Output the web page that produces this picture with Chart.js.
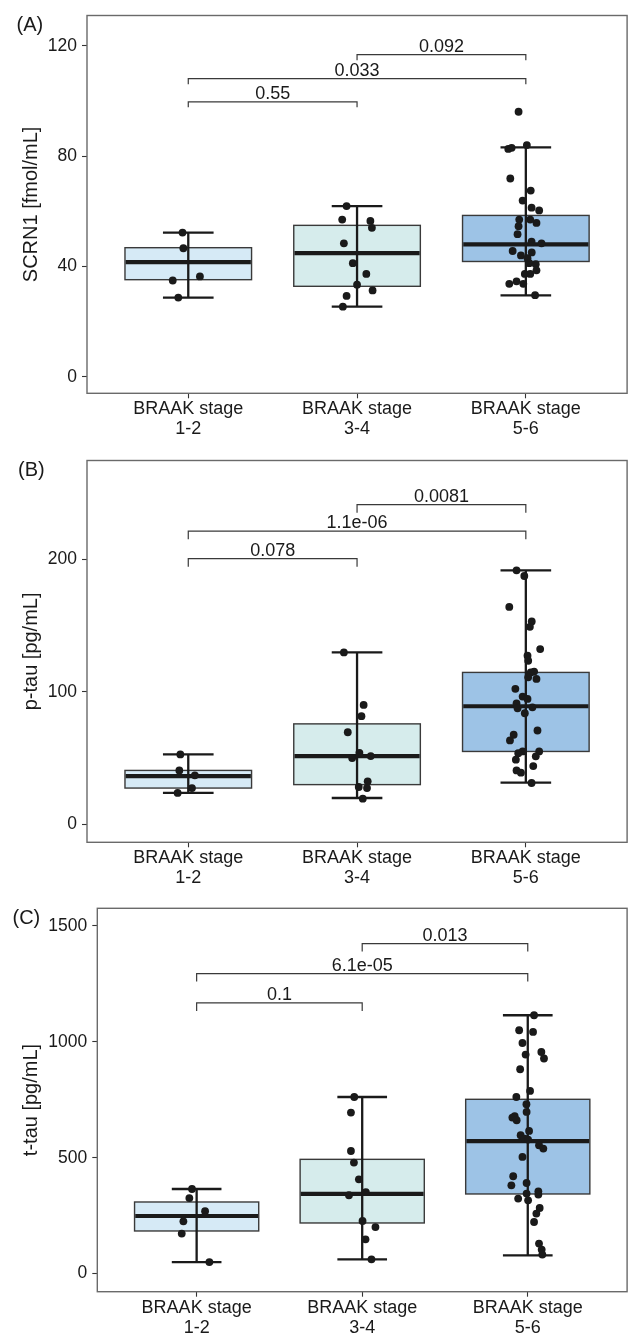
<!DOCTYPE html>
<html><head><meta charset="utf-8">
<script src="https://cdn.jsdelivr.net/npm/chart.js@4.4.1/dist/chart.umd.min.js"></script>
<style>
html,body{margin:0;padding:0;background:#fff;}
body{width:631px;height:1333px;position:relative;overflow:hidden;}
.panel{position:absolute;left:0;width:631px;}
canvas{display:block;}
</style></head><body>
<div class="panel" style="top:0;height:445px"><canvas id="cA" width="631" height="445"></canvas></div>
<div class="panel" style="top:445px;height:445px"><canvas id="cB" width="631" height="445"></canvas></div>
<div class="panel" style="top:890px;height:443px"><canvas id="cC" width="631" height="443"></canvas></div>
<script>
// ---------- data ----------
const categories = [['BRAAK stage','1-2'],['BRAAK stage','3-4'],['BRAAK stage','5-6']];

// Panel A: SCRN1 [fmol/mL]
const ticksA = [0, 40, 80, 120];
const boxA = [ // [lower whisker, Q1, median, Q3, upper whisker]
  [28.7, 35.2, 41.6, 46.8, 52.3],
  [25.4, 32.8, 44.8, 54.9, 61.9],
  [29.5, 41.8, 48.0, 58.5, 83.2]
];
const ptsA1 = [52.3, 46.6, 34.9, 36.4, 28.7];
const jitA1 = [-0.034, -0.029, -0.092, 0.069, -0.059];
const ptsA2 = [61.9, 57.0, 56.5, 54.0, 48.4, 41.2, 37.3, 33.4, 31.3, 29.3, 25.4];
const jitA2 = [-0.062, -0.088, 0.079, 0.088, -0.078, -0.025, 0.055, 0, 0.092, -0.062, -0.084];
const ptsA3 = [96.1, 82.6, 83.0, 84.0, 71.9, 67.5, 63.9, 61.3, 60.3, 55.8, 57.0, 57.0, 54.6, 51.7, 49.0, 48.4, 45.6, 44.0, 45.1, 43.0, 41.2, 40.8, 38.6, 37.3, 37.3, 33.7, 34.6, 33.7, 29.6];
const jitA3 = [-0.043, -0.104, -0.084, 0.006, -0.092, 0.029, -0.019, 0.034, 0.079, 0.063, -0.039, 0.026, -0.043, -0.049, 0.034, 0.093, -0.078, -0.029, 0.035, 0.010, 0.020, 0.059, 0.063, -0.006, 0.026, -0.098, -0.055, -0.015, 0.055];
const bracketsA = [ // [from group, to group, y, label]
  [1, 2, 99.7, '0.55'],
  [1, 3, 108.1, '0.033'],
  [2, 3, 116.8, '0.092']
];
const tipA = 2.0;

// Panel B: p-tau [pg/mL]
const ticksB = [0, 100, 200];
const boxB = [
  [23.8, 27.5, 36.5, 40.8, 52.9],
  [20.0, 30.1, 51.6, 75.9, 129.8],
  [31.6, 55.1, 89.2, 114.7, 191.7]
];
const ptsB1 = [52.9, 40.8, 37.1, 27.5, 23.8];
const jitB1 = [-0.047, -0.053, 0.039, 0.022, -0.063];
const ptsB2 = [129.8, 90.2, 81.7, 69.6, 54.1, 50.1, 51.6, 32.6, 28.3, 27.5, 19.5];
const jitB2 = [-0.078, 0.039, 0.026, -0.055, 0.014, -0.029, 0.081, 0.063, 0.010, 0.059, 0.034];
const ptsB3 = [191.7, 187.4, 164.1, 153.1, 149.1, 132.3, 127.3, 123.5, 115.3, 114.7, 111.0, 109.8, 102.3, 96.5, 94.7, 91.4, 88.4, 87.7, 83.9, 70.9, 67.7, 63.4, 55.1, 53.8, 55.1, 51.4, 48.9, 44.1, 40.8, 39.1, 31.3];
const jitB3 = [-0.055, -0.009, -0.098, 0.035, 0.024, 0.085, 0.010, 0.014, 0.049, 0.029, 0.014, 0.063, -0.062, -0.019, 0.010, -0.055, 0.039, -0.049, -0.006, 0.069, -0.072, -0.094, -0.019, -0.045, 0.079, 0.059, -0.059, 0.044, -0.055, -0.029, 0.034];
const bracketsB = [
  [1, 2, 200.5, '0.078'],
  [1, 3, 221.3, '1.1e-06'],
  [2, 3, 241.3, '0.0081']
];
const tipB = 6.2;

// Panel C: t-tau [pg/mL]
const ticksC = [0, 500, 1000, 1500];
const boxC = [
  [50, 184, 248.6, 309, 365],
  [61.7, 218.5, 343.6, 493, 762],
  [79, 343.6, 572, 752, 1114.6]
];
const ptsC1 = [365, 326, 269, 225.7, 172.6, 50];
const jitC1 = [-0.028, -0.044, 0.051, -0.080, -0.090, 0.077];
const ptsC2 = [762, 694.6, 529, 479, 407, 338, 352, 227, 201, 148, 61.7];
const jitC2 = [-0.048, -0.068, -0.068, -0.050, -0.020, -0.080, 0.022, 0.002, 0.080, 0.020, 0.056];
const ptsC3 = [1114.6, 1050, 1042.7, 995, 956, 945, 928, 881.6, 788, 762, 730.6, 697.4, 673, 678.8, 661.6, 615.4, 597, 582.6, 578.2, 553.7, 539.4, 503.3, 420, 381, 391, 345.2, 355, 341, 323.7, 316.3, 283, 258.9, 222.7, 129.5, 103.6, 82];
const jitC3 = [0.038, -0.052, 0.032, -0.032, 0.082, -0.013, 0.098, -0.046, 0.014, -0.069, -0.008, -0.007, -0.093, -0.079, -0.067, 0.008, -0.043, -0.019, 0.002, 0.068, 0.094, -0.032, -0.088, -0.099, -0.007, -0.007, 0.064, 0.064, -0.058, 0.002, 0.072, 0.052, 0.038, 0.068, 0.084, 0.088];
const bracketsC = [
  [1, 2, 1167.7, '0.1'],
  [1, 3, 1294.5, '6.1e-05'],
  [2, 3, 1424, '0.013']
];
const tipC = 34.5;

// ---------- styling ----------
const FONT = "'Liberation Sans', Arial, Helvetica, sans-serif";
const fills = ['#D6EAF6', '#D6ECEC', '#9DC3E6'];
const BOX_WIDTH = 0.75, CAP_WIDTH = 0.3;

const boxPlugin = {
  id: 'boxes',
  beforeDatasetsDraw(chart) {
    const p = chart.options.plugins.boxes;
    const ctx = chart.ctx, xs = chart.scales.x, ys = chart.scales.y;
    ctx.save();
    p.stats.forEach((s, i) => {
      const c = i + 1;
      const cx = xs.getPixelForValue(c);
      const bl = xs.getPixelForValue(c - BOX_WIDTH / 2), br = xs.getPixelForValue(c + BOX_WIDTH / 2);
      const cl = xs.getPixelForValue(c - CAP_WIDTH / 2), cr = xs.getPixelForValue(c + CAP_WIDTH / 2);
      const yLo = ys.getPixelForValue(s[0]), yQ1 = ys.getPixelForValue(s[1]);
      const yMed = ys.getPixelForValue(s[2]), yQ3 = ys.getPixelForValue(s[3]);
      const yHi = ys.getPixelForValue(s[4]);
      ctx.fillStyle = fills[i];
      ctx.fillRect(bl, yQ3, br - bl, yQ1 - yQ3);
      ctx.strokeStyle = '#3a3a3a'; ctx.lineWidth = 1.4;
      ctx.strokeRect(bl, yQ3, br - bl, yQ1 - yQ3);
      ctx.strokeStyle = '#1a1a1a'; ctx.lineWidth = 4.2; ctx.lineCap = 'butt';
      ctx.beginPath(); ctx.moveTo(bl + 0.7, yMed); ctx.lineTo(br - 0.7, yMed); ctx.stroke();
      ctx.lineWidth = 2.3;
      ctx.beginPath();
      ctx.moveTo(cx, yHi); ctx.lineTo(cx, yLo);
      ctx.moveTo(cl, yHi); ctx.lineTo(cr, yHi);
      ctx.moveTo(cl, yLo); ctx.lineTo(cr, yLo);
      ctx.stroke();
    });
    ctx.restore();
  },
  afterDraw(chart) {
    const p = chart.options.plugins.boxes;
    const ctx = chart.ctx, xs = chart.scales.x, ys = chart.scales.y, a = chart.chartArea;
    ctx.save();
    // panel border
    ctx.strokeStyle = '#6a6a6a'; ctx.lineWidth = 1.4;
    ctx.strokeRect(a.left, a.top, a.right - a.left, a.bottom - a.top);
    // brackets
    ctx.strokeStyle = '#3a3a3a'; ctx.lineWidth = 1.2;
    ctx.fillStyle = '#1a1a1a';
    ctx.font = '18px ' + FONT;
    ctx.textAlign = 'center'; ctx.textBaseline = 'alphabetic';
    p.brackets.forEach(b => {
      const x1 = xs.getPixelForValue(b[0]), x2 = xs.getPixelForValue(b[1]);
      const y = ys.getPixelForValue(b[2]), yt = ys.getPixelForValue(b[2] - p.tip);
      ctx.beginPath();
      ctx.moveTo(x1, yt); ctx.lineTo(x1, y); ctx.lineTo(x2, y); ctx.lineTo(x2, yt);
      ctx.stroke();
      ctx.fillText(b[3], (x1 + x2) / 2, y - 3);
    });
    // panel tag
    ctx.textAlign = 'left';
    ctx.font = '20px ' + FONT;
    ctx.fillText(p.tag, p.tagX, a.top + 15.5);
    ctx.restore();
  }
};

function pointsOf(vals, jit, g) {
  return vals.map((v, i) => ({x: g + jit[i], y: v}));
}

function makePanel(id, cfg) {
  const ds = cfg.points.map((d, i) => ({
    data: pointsOf(d[0], d[1], i + 1),
    pointRadius: 3.9, pointHoverRadius: 3.9,
    backgroundColor: '#1a1a1a', borderWidth: 0, showLine: false
  }));
  return new Chart(document.getElementById(id), {
    type: 'scatter',
    data: {datasets: ds},
    plugins: [boxPlugin],
    options: {
      responsive: false, animation: false, devicePixelRatio: 1,
      events: [],
      layout: {padding: {top: cfg.padTop, right: 1.3, left: 0, bottom: 0}},
      plugins: {
        legend: {display: false}, tooltip: {enabled: false},
        boxes: {stats: cfg.stats, brackets: cfg.brackets, tip: cfg.tip, tag: cfg.tag, tagX: cfg.tagX}
      },
      scales: {
        x: {
          type: 'linear', min: 0.4, max: 3.6,
          afterBuildTicks: s => { s.ticks = [1, 2, 3].map(v => ({value: v})); },
          afterFit: s => { s.height = cfg.xH; },
          grid: {display: true, drawOnChartArea: false, drawTicks: true, tickLength: 5, tickColor: '#333', tickWidth: 1.1},
          border: {display: false},
          ticks: {
            autoSkip: false, maxRotation: 0, minRotation: 0, padding: 1.2,
            color: '#1a1a1a', font: {family: FONT, size: 18, lineHeight: 20 / 18},
            callback: v => categories[Math.round(v) - 1]
          }
        },
        y: {
          type: 'linear', min: cfg.yMin, max: cfg.yMax,
          afterBuildTicks: s => { s.ticks = cfg.ticks.map(v => ({value: v})); },
          afterFit: s => { s.width = cfg.yW; },
          grid: {display: true, drawOnChartArea: false, drawTicks: true, tickLength: 5, tickColor: '#333', tickWidth: 1.1},
          border: {display: false},
          ticks: {padding: 5, color: '#1a1a1a', font: {family: FONT, size: 17.5}, callback: v => String(v)},
          title: {display: true, text: cfg.yTitle, color: '#1a1a1a', font: {family: FONT, size: 20}, padding: {top: 19.5, bottom: 0}}
        }
      }
    }
  });
}

makePanel('cA', {
  points: [[ptsA1, jitA1], [ptsA2, jitA2], [ptsA3, jitA3]],
  stats: boxA, brackets: bracketsA, tip: tipA, tag: '(A)', tagX: 16.5,
  ticks: ticksA, yMin: -6.0, yMax: 131.0, yTitle: 'SCRN1 [fmol/mL]',
  padTop: 11, xH: 51.7, yW: 87
});
makePanel('cB', {
  points: [[ptsB1, jitB1], [ptsB2, jitB2], [ptsB3, jitB3]],
  stats: boxB, brackets: bracketsB, tip: tipB, tag: '(B)', tagX: 18,
  ticks: ticksB, yMin: -13.4, yMax: 274.5, yTitle: 'p-tau [pg/mL]',
  padTop: 14.3, xH: 47.7, yW: 87
});
makePanel('cC', {
  points: [[ptsC1, jitC1], [ptsC2, jitC2], [ptsC3, jitC3]],
  stats: boxC, brackets: bracketsC, tip: tipC, tag: '(C)', tagX: 12.5,
  ticks: ticksC, yMin: -78, yMax: 1576, yTitle: 't-tau [pg/mL]',
  padTop: 18.3, xH: 41.3, yW: 97.3
});
</script>
</body></html>
